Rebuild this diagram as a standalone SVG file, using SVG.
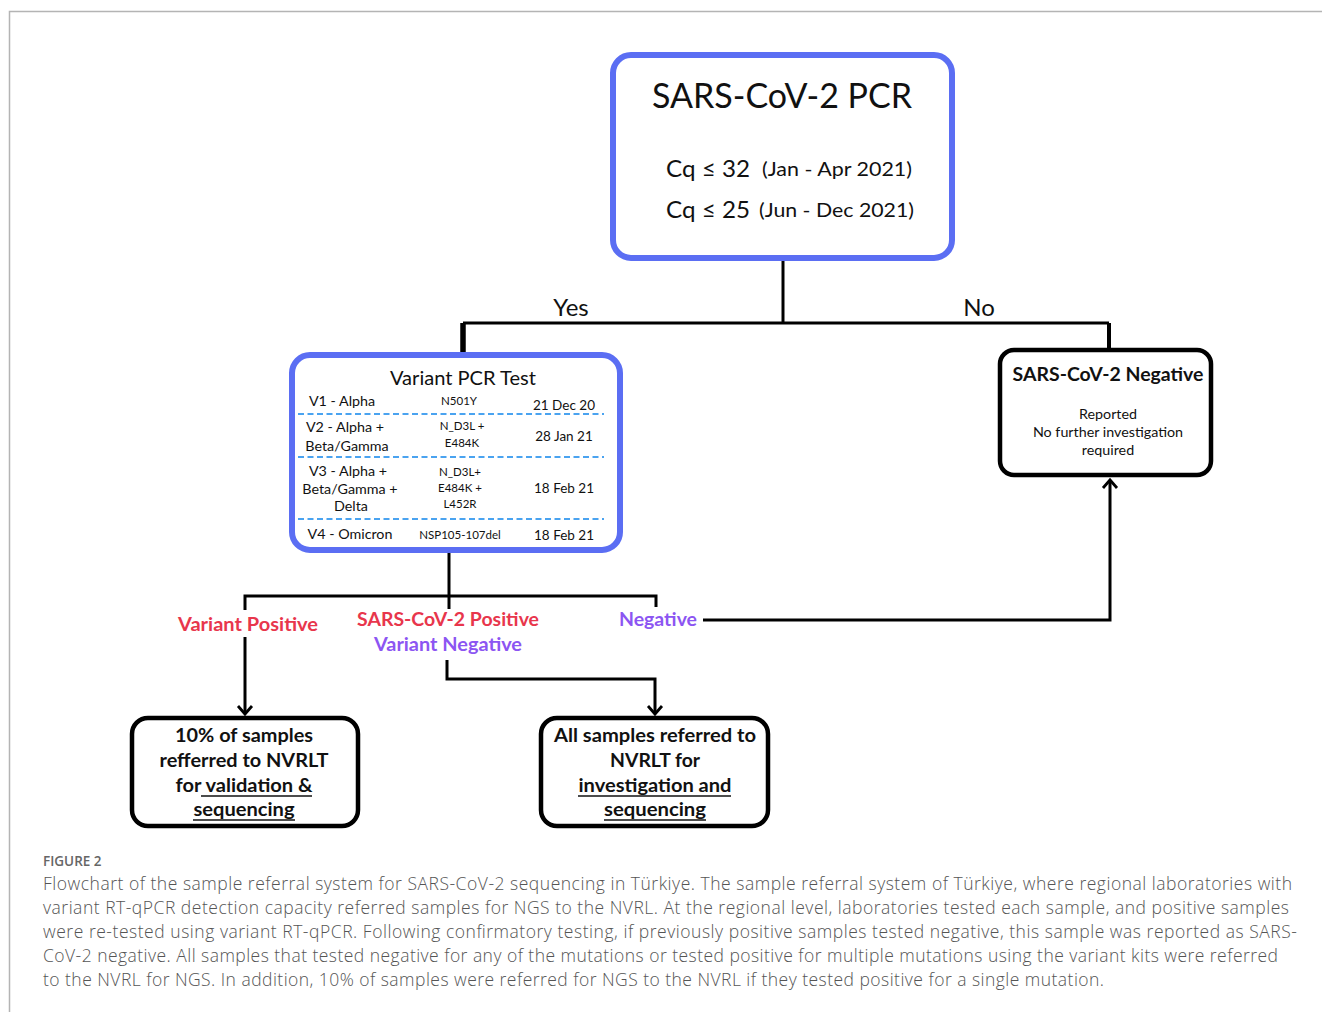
<svg xmlns="http://www.w3.org/2000/svg" width="1322" height="1012" viewBox="0 0 1322 1012">
<defs>
<style>
.frame{stroke:#b4b4b4;stroke-width:1.5;fill:none}
.blue{fill:#fff;stroke:#5b6ef3;stroke-width:6}
.blk{fill:#fff;stroke:#000;stroke-width:4.5}
.ln{fill:none;stroke:#000;stroke-width:3}
.ah{fill:none;stroke:#000;stroke-width:2.8}
.dash{stroke:#4aa3f0;stroke-width:2;stroke-dasharray:6 3.5}
.t{font-family:Lato,"Open Sans","Liberation Sans",sans-serif;fill:#111}
.b{font-family:Lato,"Open Sans","Liberation Sans",sans-serif;font-weight:700;fill:#111}
.red{fill:#e8364c}
.pur{fill:#8c55f2}
.cap{font-family:"Open Sans","Liberation Sans",sans-serif;font-weight:300;fill:#555;font-size:17.5px}
.ul{stroke:#111;stroke-width:1.6}
</style>
</defs>
<rect width="1322" height="1012" fill="#fff"/>
<path class="frame" d="M1322,11.5 H9.5 V1012"/>

<g id="connectors">
<path class="ln" d="M783,261 V323"/>
<path class="ln" d="M463,323 H1109"/>
<path d="M463,323 V354" fill="none" stroke="#000" stroke-width="5.5"/>
<path d="M1109,323 V350" fill="none" stroke="#000" stroke-width="4"/>
<path class="ln" d="M449,553 V609"/>
<path class="ln" d="M245,610 V596 H656 V607"/>
<path class="ln" d="M245,637 V714"/>
<path class="ln" d="M447,660 V679 H655 V714"/>
<path class="ln" d="M703,620 H1110 V480"/>
<path class="ah" d="M238,706 L245,714 L252,706"/>
<path class="ah" d="M648,706 L655,714 L662,706"/>
<path class="ah" d="M1103,488 L1110,480 L1117,488"/>
<text class="t" x="571" y="316" font-size="24" text-anchor="middle">Yes</text>
<text class="t" x="979" y="316" font-size="24" text-anchor="middle">No</text>
<text class="b red" x="248" y="631" font-size="18.5" text-anchor="middle" textLength="140" lengthAdjust="spacingAndGlyphs">Variant Positive</text>
<text class="b red" x="448" y="626" font-size="18.5" text-anchor="middle" textLength="182" lengthAdjust="spacingAndGlyphs">SARS-CoV-2 Positive</text>
<text class="b pur" x="448" y="651" font-size="18.5" text-anchor="middle" textLength="148" lengthAdjust="spacingAndGlyphs">Variant Negative</text>
<text class="b pur" x="658" y="626" font-size="18.5" text-anchor="middle" textLength="78" lengthAdjust="spacingAndGlyphs">Negative</text>
</g>

<g id="pcr">
<rect class="blue" x="613" y="55" width="339" height="203" rx="18"/>
<text class="t" x="782" y="108" font-size="34" text-anchor="middle" textLength="260" lengthAdjust="spacingAndGlyphs">SARS-CoV-2 PCR</text>
<text class="t" x="666" y="177" font-size="24" textLength="84" lengthAdjust="spacingAndGlyphs">Cq ≤ 32</text>
<text class="t" x="762" y="176" font-size="19" textLength="150" lengthAdjust="spacingAndGlyphs">(Jan - Apr 2021)</text>
<text class="t" x="666" y="218" font-size="24" textLength="84" lengthAdjust="spacingAndGlyphs">Cq ≤ 25</text>
<text class="t" x="759" y="217" font-size="19" textLength="155" lengthAdjust="spacingAndGlyphs">(Jun - Dec 2021)</text>
</g>

<g id="variant">
<rect class="blue" x="292" y="355" width="328" height="195" rx="18"/>
<text class="t" x="463" y="385" font-size="19.5" text-anchor="middle" textLength="146" lengthAdjust="spacingAndGlyphs">Variant PCR Test</text>
<g font-size="14.3" text-anchor="middle">
<text class="t" x="342" y="406">V1 - Alpha</text>
<text class="t" x="345" y="432">V2 - Alpha +</text>
<text class="t" x="347" y="451">Beta/Gamma</text>
<text class="t" x="348" y="476">V3 - Alpha +</text>
<text class="t" x="350" y="494">Beta/Gamma +</text>
<text class="t" x="351" y="511">Delta</text>
<text class="t" x="350" y="539">V4 - Omicron</text>
</g>
<g font-size="11.5" text-anchor="middle">
<text class="t" x="459" y="405">N501Y</text>
<text class="t" x="462" y="430">N_D3L +</text>
<text class="t" x="462" y="447">E484K</text>
<text class="t" x="460" y="476">N_D3L+</text>
<text class="t" x="460" y="492">E484K +</text>
<text class="t" x="460" y="508">L452R</text>
<text class="t" x="460" y="539">NSP105-107del</text>
</g>
<g font-size="13.5" text-anchor="middle">
<text class="t" x="564" y="410">21 Dec 20</text>
<text class="t" x="564" y="441">28 Jan 21</text>
<text class="t" x="564" y="493">18 Feb 21</text>
<text class="t" x="564" y="540">18 Feb 21</text>
</g>
<line class="dash" x1="298" y1="414" x2="604" y2="414"/>
<line class="dash" x1="298" y1="457" x2="604" y2="457"/>
<line class="dash" x1="298" y1="519" x2="604" y2="519"/>
</g>

<g id="negative">
<rect class="blk" x="1000" y="350" width="211" height="125" rx="14"/>
<text class="b" x="1108" y="381" font-size="18" text-anchor="middle" textLength="191" lengthAdjust="spacingAndGlyphs">SARS-CoV-2 Negative</text>
<text class="t" x="1108" y="419" font-size="14.3" text-anchor="middle">Reported</text>
<text class="t" x="1108" y="437" font-size="14.3" text-anchor="middle">No further investigation</text>
<text class="t" x="1108" y="455" font-size="14.3" text-anchor="middle">required</text>
</g>

<g id="ten-percent">
<rect class="blk" x="132" y="718" width="226" height="108" rx="16"/>
<text class="b" x="244" y="742" font-size="19" text-anchor="middle" textLength="138" lengthAdjust="spacingAndGlyphs">10% of samples</text>
<text class="b" x="244" y="767" font-size="19" text-anchor="middle" textLength="169" lengthAdjust="spacingAndGlyphs">refferred to NVRLT</text>
<text class="b" x="244" y="792" font-size="19" text-anchor="middle" textLength="137" lengthAdjust="spacingAndGlyphs">for validation &amp;</text>
<text class="b" x="244" y="816" font-size="19" text-anchor="middle" textLength="101" lengthAdjust="spacingAndGlyphs">sequencing</text>
<line class="ul" x1="201" y1="796" x2="312" y2="796"/>
<line class="ul" x1="193" y1="820" x2="295" y2="820"/>
</g>

<g id="all-samples">
<rect class="blk" x="541" y="718" width="227" height="108" rx="16"/>
<text class="b" x="655" y="742" font-size="19" text-anchor="middle" textLength="202" lengthAdjust="spacingAndGlyphs">All samples referred to</text>
<text class="b" x="655" y="767" font-size="19" text-anchor="middle" textLength="90" lengthAdjust="spacingAndGlyphs">NVRLT for</text>
<text class="b" x="655" y="792" font-size="19" text-anchor="middle" textLength="153" lengthAdjust="spacingAndGlyphs">investigation and</text>
<text class="b" x="655" y="816" font-size="19" text-anchor="middle" textLength="102" lengthAdjust="spacingAndGlyphs">sequencing</text>
<line class="ul" x1="578" y1="796" x2="731" y2="796"/>
<line class="ul" x1="604" y1="820" x2="706" y2="820"/>
</g>

<g id="caption">
<text x="43" y="866" font-family="'Open Sans','Liberation Sans',sans-serif" font-size="13.5" fill="#666" font-weight="600">FIGURE 2</text>
<text class="cap" x="43" y="890" textLength="1249" lengthAdjust="spacing">Flowchart of the sample referral system for SARS-CoV-2 sequencing in Türkiye. The sample referral system of Türkiye, where regional laboratories with</text>
<text class="cap" x="43" y="914" textLength="1246" lengthAdjust="spacing">variant RT-qPCR detection capacity referred samples for NGS to the NVRL. At the regional level, laboratories tested each sample, and positive samples</text>
<text class="cap" x="43" y="938" textLength="1254" lengthAdjust="spacing">were re-tested using variant RT-qPCR. Following confirmatory testing, if previously positive samples tested negative, this sample was reported as SARS-</text>
<text class="cap" x="43" y="962" textLength="1235" lengthAdjust="spacing">CoV-2 negative. All samples that tested negative for any of the mutations or tested positive for multiple mutations using the variant kits were referred</text>
<text class="cap" x="43" y="986" textLength="1061" lengthAdjust="spacing">to the NVRL for NGS. In addition, 10% of samples were referred for NGS to the NVRL if they tested positive for a single mutation.</text>
</g>
</svg>
